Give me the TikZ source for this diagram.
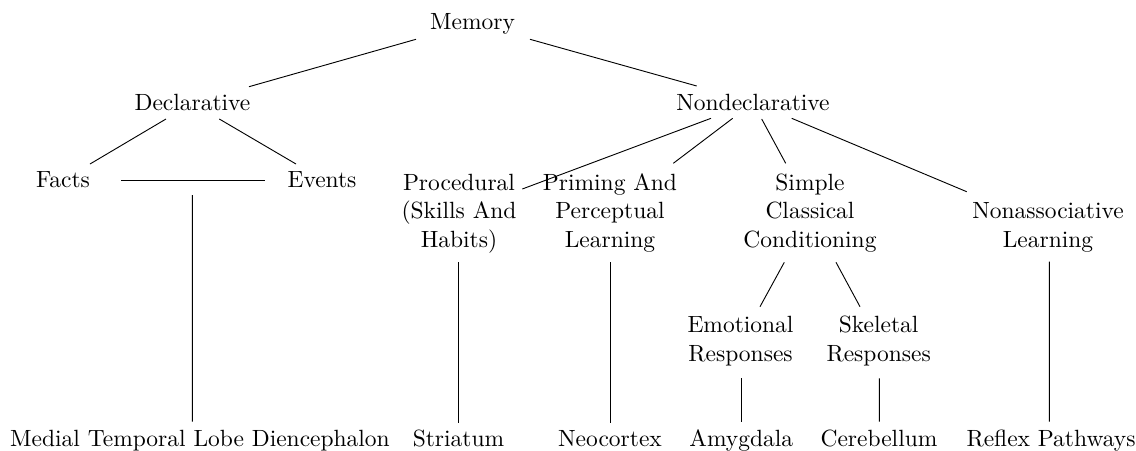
\documentclass[tikz,border=0pt]{standalone}
\usetikzlibrary{calc}
\tikzset{
  lbl/.style={inner sep=0pt, outer sep=0pt, font=\fontsize{10.25}{12.5}\selectfont},
  one/.style={lbl, anchor=base},
  multi/.style={lbl, anchor=south, align=center},
  link/.style={draw=black, line width=0.4pt}
}
\begin{document}
\begin{tikzpicture}[x=0.4367pt, y=-0.4367pt]
\useasboundingbox (0,0) rectangle (1136,451);
% nodes
\node[one] (mem) at (472.5,29) {Memory};
\node[one] (decl) at (192.5,110) {Declarative};
\node[one] (nondecl) at (753,110) {Nondeclarative};
\node[one] (facts) at (63,187) {Facts};
\node[one] (events) at (322,187) {Events};
\node[multi] (proc) at (459,256.1) {Procedural\\(Skills And\\Habits)\strut};
\node[multi] (prim) at (610,256.1) {Priming And\\Perceptual\\Learning\strut};
\node[multi] (simple) at (810,256.1) {Simple\\Classical\\Conditioning\strut};
\node[multi] (nonassoc) at (1048,256.1) {Nonassociative\\Learning\strut};
\node[multi] (emo) at (740.5,369.6) {Emotional\\Responses\strut};
\node[multi] (skel) at (878.7,369.6) {Skeletal\\Responses\strut};
\node[one] (mtl) at (200,446) {Medial Temporal Lobe Diencephalon};
\node[one] (str) at (458.5,446) {Striatum};
\node[one] (neo) at (610,446) {Neocortex};
\node[one] (amy) at (741.3,446) {Amygdala};
\node[one] (cer) at (879,446) {Cerebellum};
\node[one] (ref) at (1051,446) {Reflex Pathways};
\coordinate (junc) at (192.3,180);
% connectors
\draw[link] ($(mem.base)+(-56.5,10.3)$) -- ($(decl.base)+(56.5,-23.3)$);
\draw[link] ($(mem.base)+(57.5,10.3)$) -- ($(nondecl.base)+(-56.3,-24)$);
\draw[link] ($(decl.base)+(-26.5,9)$) -- ($(facts.base)+(27,-23)$);
\draw[link] ($(decl.base)+(26.8,9)$) -- ($(events.base)+(-26,-23)$);
\draw[link] ($(facts.base)+(58,-7)$) -- ($(events.base)+(-57,-7)$);
\draw[link] ($(junc)+(0,15)$) -- ($(mtl.base)+(-7.7,-24.3)$);
\draw[link] ($(nondecl.base)+(-42,8.3)$) -- ($(proc.south)+(63.3,-67.1)$);
\draw[link] ($(nondecl.base)+(-20.3,8.3)$) -- ($(prim.south)+(63.3,-92.8)$);
\draw[link] ($(nondecl.base)+(8.7,9)$) -- ($(simple.south)+(-24.3,-92.8)$);
\draw[link] ($(nondecl.base)+(38.7,8.3)$) -- ($(nonassoc.south)+(-81.3,-64.4)$);
\draw[link] ($(simple.south)+(-25.7,6.2)$) -- ($(emo.south)+(19.5,-62.9)$);
\draw[link] ($(simple.south)+(26,6.2)$) -- ($(skel.south)+(-18.7,-62.9)$);
\draw[link] ($(proc.south)+(-0.7,6)$) -- ($(str.base)+(-0.2,-22.7)$);
\draw[link] ($(prim.south)+(0,6)$) -- ($(neo.base)+(0,-22.7)$);
\draw[link] ($(emo.south)+(1.2,8.7)$) -- ($(amy.base)+(0.4,-24.3)$);
\draw[link] ($(skel.south)+(0.6,8.7)$) -- ($(cer.base)+(0.3,-24.3)$);
\draw[link] ($(nonassoc.south)+(1.3,5.6)$) -- ($(ref.base)+(-1.7,-24.3)$);
\end{tikzpicture}
\end{document}
